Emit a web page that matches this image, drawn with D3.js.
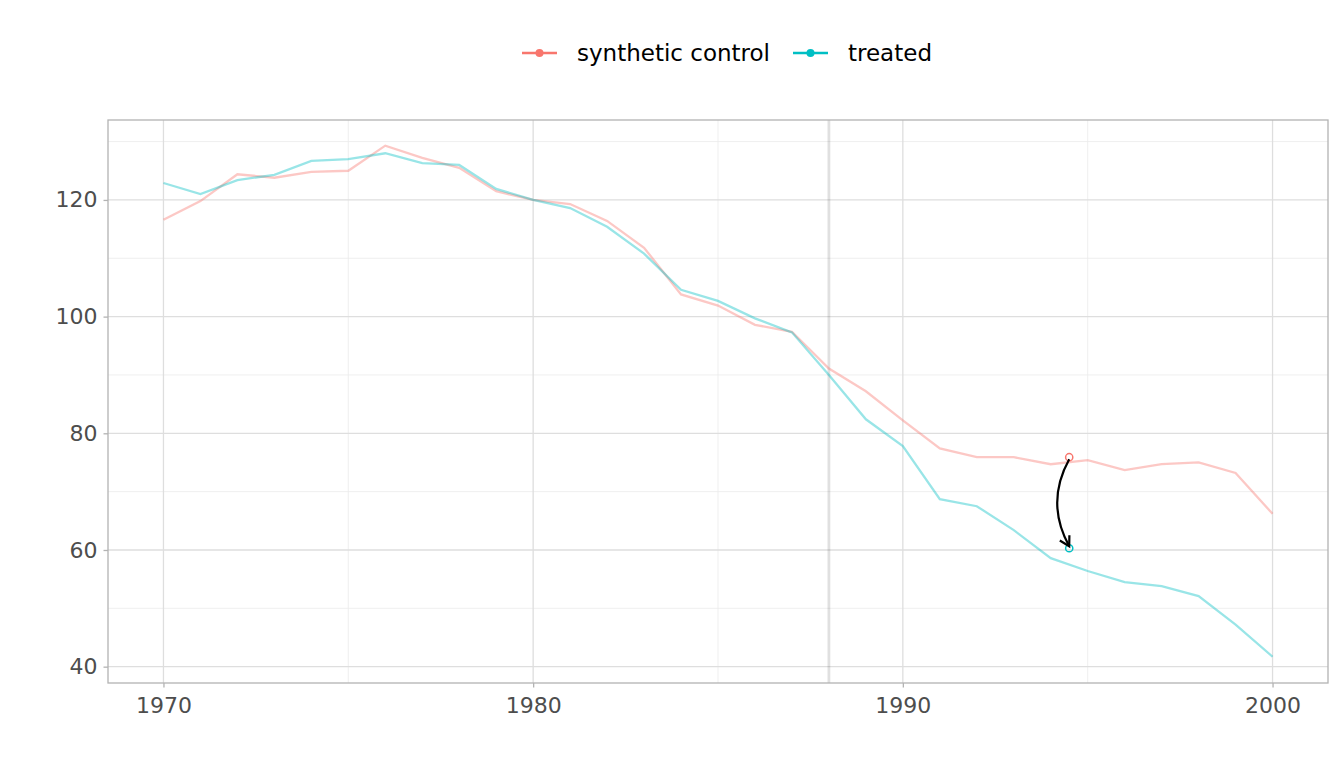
<!DOCTYPE html>
<html lang="en">
<head>
  <meta charset="UTF-8">
  <title>Synthetic control</title>
  <style>
    body { margin: 0; background: #fff; }
    text { font-family: "DejaVu Sans", sans-serif; }
  </style>
</head>
<body>
  <div id="app"></div>
  <script src="https://cdn.jsdelivr.net/npm/d3@7"></script>
  <script>
    const years = d3.range(1970, 2001)
    const synthetic = [116.6, 119.8, 124.4, 123.8, 124.8, 125.0, 129.3, 127.2, 125.5, 121.5,
      120.0, 119.3, 116.4, 111.8, 103.8, 101.9, 98.6, 97.4, 91.1, 87.2,
      82.2, 77.4, 75.9, 75.9, 74.7, 75.4, 73.7, 74.7, 75.0, 73.2, 66.2]
    const treated = [122.9, 121.0, 123.4, 124.3, 126.7, 127.0, 128.0, 126.3, 126.0, 121.9,
      120.0, 118.6, 115.4, 110.8, 104.6, 102.7, 99.7, 97.3, 90.0, 82.4,
      77.8, 68.7, 67.5, 63.4, 58.6, 56.4, 54.5, 53.8, 52.1, 47.2, 41.7]
    const seriesNames = ['synthetic control', 'treated']
    const seriesColors = ['#F8766D', '#00BFC4']
    const treatmentYear = 1988
    // annotation: gap between the two series
    const gapYear = 1994.5
    const gapValues = [75.9, 60.3]
    const xTicks = [1970, 1980, 1990, 2000]
    const xMinor = [1975, 1985, 1995]
    const yTicks = [40, 60, 80, 100, 120]
    const yMinor = [50, 70, 90, 110, 130]

    const W = 1344, H = 768
    const pLeft = 108, pRight = 1328, pTop = 120, pBottom = 683

    const svg = d3.select('#app').append('svg')
      .attr('width', W)
      .attr('height', H)

    const x = d3.scaleLinear().domain([1968.5, 2001.5]).range([pLeft, pRight])
    const y = d3.scaleLinear().domain([37.2, 133.7]).range([pBottom, pTop])

    // grid
    const grid = svg.append('g')
    grid.selectAll('.xminor').data(xMinor).enter().append('line')
      .attr('x1', d => x(d)).attr('x2', d => x(d)).attr('y1', pTop).attr('y2', pBottom)
      .attr('stroke', '#ebebeb').attr('stroke-width', 0.8)
    grid.selectAll('.yminor').data(yMinor).enter().append('line')
      .attr('y1', d => y(d)).attr('y2', d => y(d)).attr('x1', pLeft).attr('x2', pRight)
      .attr('stroke', '#ebebeb').attr('stroke-width', 0.8)
    grid.selectAll('.xmajor').data(xTicks).enter().append('line')
      .attr('x1', d => x(d)).attr('x2', d => x(d)).attr('y1', pTop).attr('y2', pBottom)
      .attr('stroke', '#dedede').attr('stroke-width', 1.3)
    grid.selectAll('.ymajor').data(yTicks).enter().append('line')
      .attr('y1', d => y(d)).attr('y2', d => y(d)).attr('x1', pLeft).attr('x2', pRight)
      .attr('stroke', '#dedede').attr('stroke-width', 1.3)

    // treatment line
    svg.append('line')
      .attr('x1', x(treatmentYear)).attr('x2', x(treatmentYear))
      .attr('y1', pTop).attr('y2', pBottom)
      .attr('stroke', '#000').attr('stroke-opacity', 0.12).attr('stroke-width', 2.8)

    // series lines
    const line = d3.line().x((d, i) => x(years[i])).y(d => y(d))
    ;[synthetic, treated].forEach((s, k) => {
      svg.append('path')
        .datum(s)
        .attr('d', line)
        .attr('fill', 'none')
        .attr('stroke', seriesColors[k])
        .attr('stroke-opacity', 0.4)
        .attr('stroke-width', 2.3)
    })

    // gap points
    svg.selectAll('.gap').data(gapValues).enter().append('circle')
      .attr('cx', x(gapYear)).attr('cy', d => y(d)).attr('r', 3.6)
      .attr('fill', 'none').attr('stroke', (d, i) => seriesColors[i]).attr('stroke-width', 1.5)

    // curved arrow
    const x0 = x(gapYear), y0 = y(gapValues[0]) + 2, y1 = y(gapValues[1]) - 2
    const cx = x0 - 24, cy = (y0 + y1) / 2
    svg.append('path')
      .attr('d', `M${x0},${y0} Q${cx},${cy} ${x0},${y1}`)
      .attr('fill', 'none').attr('stroke', '#000').attr('stroke-width', 2.2)
    // arrow head: direction of curve at end
    const ang = Math.atan2(y1 - cy, x0 - cx)
    const hl = 11
    const a1 = ang + Math.PI - 0.52, a2 = ang + Math.PI + 0.52
    svg.append('path')
      .attr('d', `M${x0 + hl * Math.cos(a1)},${y1 + hl * Math.sin(a1)} L${x0},${y1} L${x0 + hl * Math.cos(a2)},${y1 + hl * Math.sin(a2)}`)
      .attr('fill', 'none').attr('stroke', '#000').attr('stroke-width', 2.2)

    // panel border
    svg.append('rect')
      .attr('x', pLeft).attr('y', pTop).attr('width', pRight - pLeft).attr('height', pBottom - pTop)
      .attr('fill', 'none').attr('stroke', '#b3b3b3').attr('stroke-width', 1.3)

    // axes
    const xAxis = svg.append('g')
      .attr('transform', `translate(0,${pBottom})`)
      .call(d3.axisBottom(x).tickValues(xTicks).tickFormat(d3.format('d')).tickSize(4.5).tickPadding(9.5))
    const yAxis = svg.append('g')
      .attr('transform', `translate(${pLeft},0)`)
      .call(d3.axisLeft(y).tickValues(yTicks).tickSize(4.5).tickPadding(6))
    ;[xAxis, yAxis].forEach(a => {
      a.select('.domain').remove()
      a.selectAll('line').attr('stroke', '#b3b3b3').attr('stroke-width', 1.3)
      a.selectAll('text').attr('fill', '#4d4d4d').style('font-size', '22px')
        .style('font-family', '"DejaVu Sans", sans-serif')
    })

    // legend
    const legend = svg.append('g')
    const legendX = [522, 793]
    const legendY = 53
    seriesNames.forEach((name, i) => {
      const g = legend.append('g').attr('transform', `translate(${legendX[i]},${legendY})`)
      g.append('line').attr('x1', 0).attr('x2', 35).attr('stroke', seriesColors[i]).attr('stroke-width', 2.3)
      g.append('circle').attr('cx', 17.5).attr('r', 4).attr('fill', seriesColors[i])
      g.append('text').attr('x', 55).attr('dy', '0.35em')
        .style('font-size', '23px').attr('fill', '#000').text(name)
    })
  </script>
</body>
</html>
